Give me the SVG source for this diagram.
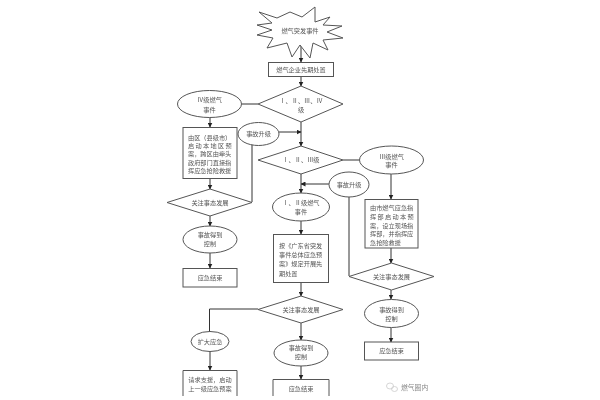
<svg xmlns="http://www.w3.org/2000/svg" width="600" height="400" viewBox="0 0 600 400">
<defs>
<marker id="arr" markerUnits="userSpaceOnUse" markerWidth="5" markerHeight="5" refX="4.5" refY="2.5" orient="auto"><path d="M0,0 L5,2.5 L0,5 Z" fill="#222"/></marker>
<filter id="soft" x="-5%" y="-5%" width="110%" height="110%"><feGaussianBlur stdDeviation="0.4"/></filter>
</defs>
<style>
.s{fill:#fff;stroke:#555;stroke-width:1}
.c{fill:none;stroke:#333;stroke-width:1}
.a{marker-end:url(#arr)}
text{font-family:"Noto Sans CJK SC","Liberation Serif",serif;font-size:6.200px;fill:#555;text-anchor:middle}
.l{text-anchor:start}
.j{letter-spacing:1.300px}
.w{fill:none;stroke:#ccc;stroke-width:.8}
</style>
<rect width="600" height="400" fill="#fff"/>
<g filter="url(#soft)">
<g id="connectors">
<path class="c a" d="M301,44V62"/>
<path class="c a" d="M301,76V86"/>
<path class="c" d="M242,104H258"/>
<path class="c a" d="M210,117V127"/>
<path class="c a" d="M301,122V146"/>
<path class="c a" d="M279,132H301"/>
<path class="c a" d="M210,178V189"/>
<path class="c" d="M252,144V202"/>
<path class="c a" d="M210,216V226"/>
<path class="c a" d="M210,253V268"/>
<path class="c" d="M343,160H359"/>
<path class="c a" d="M391,174V199"/>
<path class="c a" d="M391,248V263"/>
<path class="c a" d="M329,184H301"/>
<path class="c" d="M349,197V276"/>
<path class="c a" d="M301,174V193"/>
<path class="c a" d="M301,221V234"/>
<path class="c a" d="M301,282V296"/>
<path class="c" d="M258,309H209.500V332"/>
<path class="c a" d="M210,351V370"/>
<path class="c a" d="M301,323V340"/>
<path class="c a" d="M301,366V379"/>
<path class="c a" d="M391,290V299"/>
<path class="c a" d="M391,328V342"/>
</g>
<g id="start"><polygon class="s" points="259,12 277,18 290,12 302,17 315,7 315,22 330,17 323,25 342,26 327,32 343,38 323,40 328,50 313,43 310,58 300,45 292,57 287,43 267,48 273,38 257,35 272,30 257,25 272,23"/><text x="300" y="32.500">燃气突发事件</text></g>
<g id="first"><rect class="s" x="268.500" y="62.500" width="65" height="14"/><text x="301" y="71.500">燃气企业先期处置</text></g>
<g id="d1"><polygon class="s" points="301,86 343,104 301,122 258,104"/><text x="301" y="103.300">Ⅰ、Ⅱ、Ⅲ、Ⅳ</text><text x="301" y="111.500">级</text></g>
<g id="e4"><ellipse class="s" cx="209.500" cy="104" rx="32" ry="13.500"/><text x="209.500" y="102.300">Ⅳ级燃气</text><text x="209.500" y="111.500">事件</text></g>
<g id="r4"><rect class="s" x="183" y="127.500" width="54" height="51"/><text class="l" x="188" y="139.500">由区（县级市）</text><text class="l j" x="188" y="147.500">启动本地区预</text><text class="l" x="188" y="155.500">案，跨区由牵头</text><text class="l" x="188" y="164.500">政府部门直接指</text><text class="l" x="188" y="172.500">挥应急抢险救援</text></g>
<g id="up1"><ellipse class="s" cx="258.500" cy="134" rx="20.500" ry="11.500"/><text x="258.500" y="136">事故升级</text></g>
<g id="d2"><polygon class="s" points="301,146 343,160 301,174 258,160"/><text x="301" y="162">Ⅰ、Ⅱ、Ⅲ级</text></g>
<g id="e3"><ellipse class="s" cx="391.500" cy="160" rx="32" ry="14"/><text x="391.500" y="158.500">Ⅲ级燃气</text><text x="391.500" y="166.500">事件</text></g>
<g id="d4"><polygon class="s" points="210,189 252,202.500 210,216 167,202.500"/><text x="210" y="204.500">关注事态发展</text></g>
<g id="c4"><ellipse class="s" cx="210" cy="239.500" rx="27" ry="13.500"/><text x="210" y="236.500">事故得到</text><text x="210" y="245.500">控制</text></g>
<g id="end4"><rect class="s" x="183" y="268.500" width="54" height="18.500"/><text x="210" y="279.500">应急结束</text></g>
<g id="up2"><ellipse class="s" cx="349" cy="184.500" rx="20" ry="12.500"/><text x="349" y="186.500">事故升级</text></g>
<g id="e12"><ellipse class="s" cx="301" cy="207" rx="28.500" ry="14"/><text x="301" y="204.500">Ⅰ、Ⅱ级燃气</text><text x="301" y="213.500">事件</text></g>
<g id="r12"><rect class="s" x="273.500" y="234.500" width="55" height="48"/><text class="l" x="279" y="247.500">按《广东省突发</text><text class="l" x="279" y="256.500">事件总体应急预</text><text class="l" x="279" y="265.500">案》规定开展先</text><text class="l" x="279" y="275.500">期处置</text></g>
<g id="r3"><rect class="s" x="365" y="199.500" width="53" height="48.500"/><text class="l" x="370" y="209.500">由市燃气应急指</text><text class="l j" x="370" y="218.500">挥部启动本预</text><text class="l" x="370" y="227.500">案，设立现场指</text><text class="l" x="370" y="235.500">挥部，并指挥应</text><text class="l" x="370" y="244.500">急抢险救援</text></g>
<g id="d3"><polygon class="s" points="391.500,263 434,276.500 391.500,290 349,276.500"/><text x="391.500" y="278.500">关注事态发展</text></g>
<g id="c3"><ellipse class="s" cx="391.500" cy="313.500" rx="27" ry="14"/><text x="391.500" y="311.500">事故得到</text><text x="391.500" y="320.500">控制</text></g>
<g id="end3"><rect class="s" x="364.500" y="342" width="54" height="18"/><text x="391.500" y="353">应急结束</text></g>
<g id="d5"><polygon class="s" points="301,296 343,309.500 301,323 258,309.500"/><text x="301" y="311.500">关注事态发展</text></g>
<g id="exp"><ellipse class="s" cx="210" cy="341.500" rx="19" ry="10"/><text x="210" y="343.500">扩大应急</text></g>
<g id="c5"><ellipse class="s" cx="301" cy="353" rx="27" ry="13"/><text x="301" y="349.500">事故得到</text><text x="301" y="358.500">控制</text></g>
<g id="req"><path class="s" d="M183,396V370.500H237V396"/><text x="210" y="381.500">请求支援，启动</text><text x="210" y="390.500">上一级应急预案</text></g>
<g id="end5"><path class="s" d="M273,396V379.500H329V396"/><text x="301" y="390.500">应急结束</text></g>
</g>
<g id="watermark" filter="url(#soft)"><ellipse class="w" cx="390" cy="386" rx="3.500" ry="3"/><ellipse class="w" cx="394.500" cy="389" rx="3" ry="2.500"/><text class="l" x="401" y="390" style="font-size:6.800px;fill:#888">燃气圈内</text></g>
</svg>
